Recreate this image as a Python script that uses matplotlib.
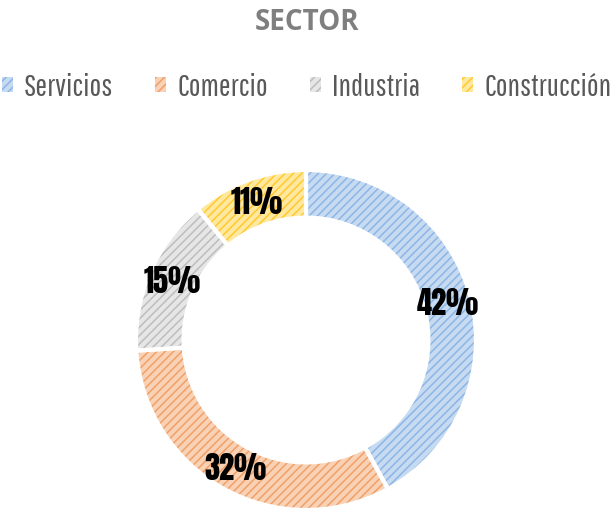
import matplotlib
matplotlib.use("Agg")
import matplotlib.pyplot as plt
from matplotlib.patches import Patch

# data
sectors = ["Servicios", "Comercio", "Industria", "Construcción"]
shares = [42, 32, 15, 11]
face_colors = ["#c6dbf2", "#f9d2b6", "#e6e6e6", "#ffe8a0"]
line_colors = ["#8db5e4", "#f0a067", "#bdbdbd", "#ffca2e"]

legend_font = ["Pathway Gothic One", "DejaVu Sans"]
label_font = ["Anton", "DejaVu Sans"]

plt.rcParams["hatch.linewidth"] = 1.1

fig = plt.figure(figsize=(6.13, 5.09), dpi=100)
fig.patch.set_facecolor("white")

fig.text(0.5, 1 - 22 / 509, "SECTOR", ha="center", va="center",
         fontsize=20, fontweight="bold", color="#7f7f7f",
         family=["Open Sans", "DejaVu Sans"])

# donut axes
ax = fig.add_axes([136 / 613, -1 / 509, 340 / 613, 340 / 509])
wedges, _, autotexts = ax.pie(
    shares, startangle=90, counterclock=False, radius=1,
    colors=face_colors, autopct="%d%%", pctdistance=0.86,
    wedgeprops=dict(width=0.28, linewidth=0),
    textprops=dict(fontsize=22, color="black", family=label_font))
for w, lc in zip(wedges, line_colors):
    w.set_hatch("////")
    w.set_edgecolor(lc)

# white separators
ax.pie(shares, startangle=90, counterclock=False, radius=1,
       colors=["none"] * len(shares),
       wedgeprops=dict(width=0.28, linewidth=3, edgecolor="white"))
ax.set_xlim(-1, 1)
ax.set_ylim(-1, 1)
ax.set_aspect("equal")

handles = [Patch(facecolor=fc, edgecolor=lc, hatch="////", linewidth=0)
           for fc, lc in zip(face_colors, line_colors)]
leg = fig.legend(handles, sectors, loc="center", ncol=4,
                 bbox_to_anchor=(0.5, 1 - 87 / 509), frameon=False,
                 prop=dict(family=legend_font, size=22.5),
                 handlelength=0.35, handleheight=0.35, handletextpad=0.35,
                 columnspacing=1.35, labelcolor="#595959",
                 borderaxespad=0, borderpad=0)

fig.savefig("out.png", dpi=100, facecolor="white")
